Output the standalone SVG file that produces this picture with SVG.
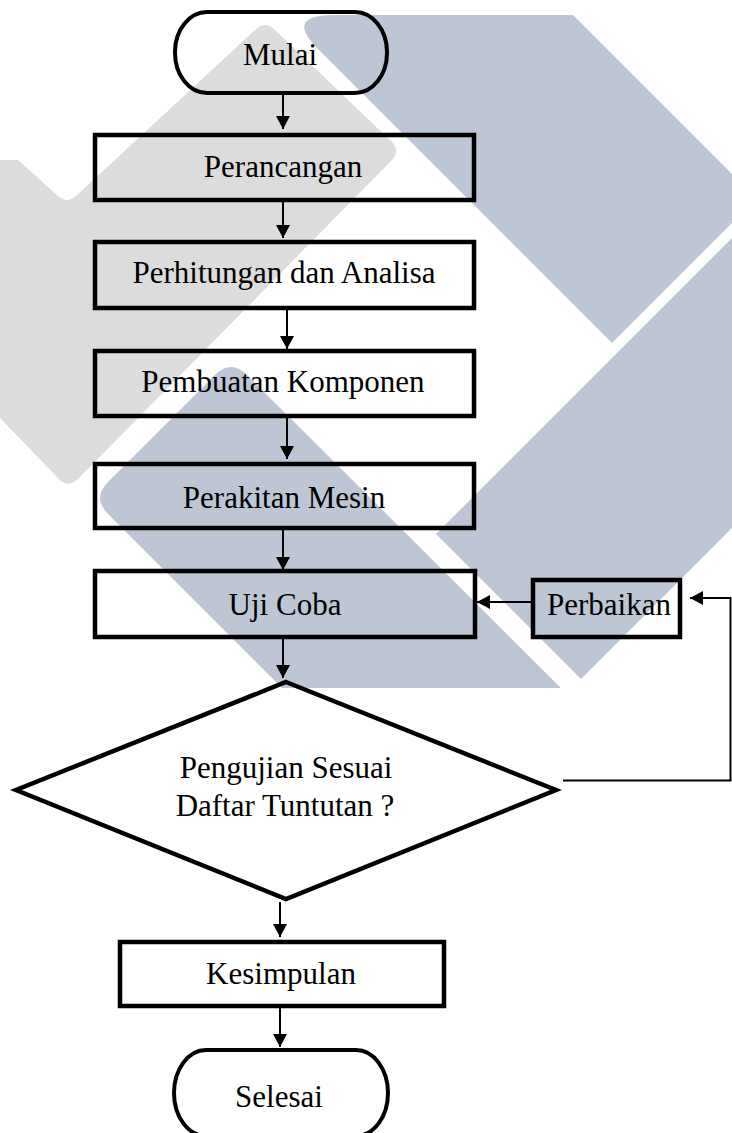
<svg xmlns="http://www.w3.org/2000/svg" width="732" height="1133" viewBox="0 0 732 1133">
  <defs>
    <marker id="arrow" markerUnits="userSpaceOnUse" markerWidth="14" markerHeight="14" refX="13" refY="7" orient="auto">
      <path d="M0,0 L13,7 L0,14 Z" fill="#000"/>
    </marker>
    <style>
      .wm-grey { fill: #dcdcdc; }
      .wm-blue { fill: #bec5d5; }
      .box { fill: none; stroke: #000; stroke-width: 4.5; }
      .term { fill: none; stroke: #000; stroke-width: 4; }
      .dec { fill: none; stroke: #000; stroke-width: 4.5; stroke-linejoin: miter; stroke-miterlimit: 10; }
      .label { font-family: "Liberation Serif", "Times New Roman", serif; font-size: 31px; fill: #000; text-anchor: middle; }
      .conn { fill: none; stroke: #000; stroke-width: 2; marker-end: url(#arrow); }
    </style>
  </defs>

  <rect width="732" height="1133" fill="#fff"/>

  <!-- background emblem -->
  <g id="emblem">
    <path class="wm-grey" d="M0,160 L18,160 L58,196 Q67,204 76,196 L255,30 Q265,20 275,30 L392,142 Q400,151 392,160 L78,479 Q69,488 60,480 L0,418 Z"/>
    <path class="wm-blue" d="M318,49 Q284,15 334,15 L573,15 L732,174 L732,223 L612,343 Z"/>
    <path class="wm-blue" d="M436,534 L732,238 L732,528 L581,679 Z"/>
    <path class="wm-blue" d="M215,375 Q231,359 247,375 L561,688 L282,688 L108,514 Q92,498 108,482 Z"/>
  </g>

  <!-- connectors -->
  <g id="connectors">
    <line class="conn" x1="283" y1="95" x2="283" y2="129"/>
    <line class="conn" x1="283" y1="202" x2="283" y2="238"/>
    <line class="conn" x1="287" y1="310" x2="287" y2="349"/>
    <line class="conn" x1="287" y1="418" x2="287" y2="459"/>
    <line class="conn" x1="283" y1="530" x2="283" y2="570"/>
    <line class="conn" x1="283" y1="639" x2="283" y2="678"/>
    <line class="conn" x1="531" y1="602" x2="477" y2="602"/>
    <polyline class="conn" points="563,780.5 730.5,780.5 730.5,598 690,598"/>
    <line class="conn" x1="280" y1="902" x2="280" y2="937"/>
    <line class="conn" x1="280" y1="1008" x2="280" y2="1047"/>
  </g>

  <!-- nodes -->
  <g id="mulai">
    <rect class="term" x="175" y="12" width="212" height="81" rx="32" ry="40"/>
    <text class="label" x="280" y="65">Mulai</text>
  </g>
  <g id="perancangan">
    <rect class="box" x="95" y="135" width="379" height="65"/>
    <text class="label" x="283" y="177">Perancangan</text>
  </g>
  <g id="perhitungan">
    <rect class="box" x="95" y="242" width="379" height="66"/>
    <text class="label" x="284" y="283">Perhitungan dan Analisa</text>
  </g>
  <g id="pembuatan">
    <rect class="box" x="95" y="351" width="379" height="65"/>
    <text class="label" x="283" y="392">Pembuatan Komponen</text>
  </g>
  <g id="perakitan">
    <rect class="box" x="95" y="464" width="379" height="64"/>
    <text class="label" x="284" y="508">Perakitan Mesin</text>
  </g>
  <g id="uji-coba">
    <rect class="box" x="95" y="571" width="380" height="66"/>
    <text class="label" x="285" y="615">Uji Coba</text>
  </g>
  <g id="perbaikan">
    <rect class="box" x="533" y="580" width="147" height="57"/>
    <text class="label" x="609" y="615">Perbaikan</text>
  </g>
  <g id="keputusan">
    <polygon class="dec" points="286,682 556,790 286,899 16,790"/>
    <text class="label" x="286" y="778">Pengujian Sesuai</text>
    <text class="label" x="285" y="816">Daftar Tuntutan ?</text>
  </g>
  <g id="kesimpulan">
    <rect class="box" x="120" y="942" width="324" height="64"/>
    <text class="label" x="281" y="984">Kesimpulan</text>
  </g>
  <g id="selesai">
    <rect class="term" x="174" y="1050" width="214" height="86" rx="32" ry="43"/>
    <text class="label" x="279" y="1107">Selesai</text>
  </g>
</svg>
